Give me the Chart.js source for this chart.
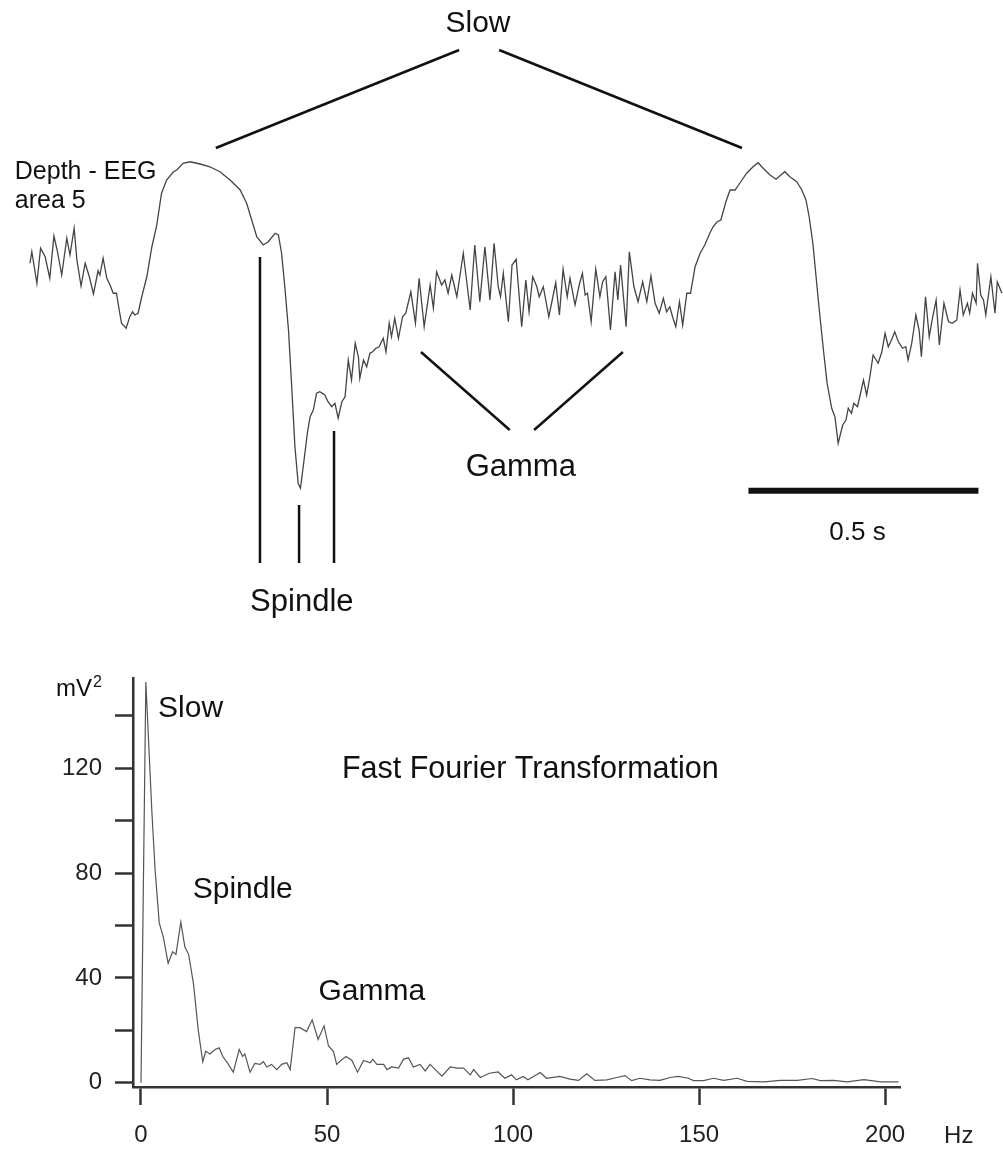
<!DOCTYPE html>
<html>
<head>
<meta charset="utf-8">
<title>Depth-EEG area 5 and FFT</title>
<script src="https://cdn.jsdelivr.net/npm/chart.js@4.4.1/dist/chart.umd.min.js"></script>
<style>
  html, body { margin: 0; padding: 0; background: #fff; }
  #page { position: relative; width: 1003px; height: 1149px; }
  #eeg { position: absolute; left: 0; top: 0; }
  #fft { position: absolute; left: 0; top: 640px; }
</style>
</head>
<body>
<div id="page">
  <canvas id="eeg" width="1003" height="640"></canvas>
  <canvas id="fft" width="1003" height="509"></canvas>
</div>
<script>
// EEG trace (depth EEG, area 5): time in ms, amplitude in µV
const eegMs = [0, 4, 15, 23, 33, 43, 52, 59, 69, 80, 87, 96, 102, 111, 120, 129, 138, 148, 152, 159,
  167, 174, 181, 188, 194, 199, 209, 217, 223, 228, 235, 243, 254, 265, 275, 286, 297, 312, 319, 333,
  348, 370, 391, 413, 435, 457, 471, 482, 493, 507, 518, 533, 540, 547, 554, 562, 569, 576, 583, 588,
  594, 603, 609, 616, 623, 630, 641, 648, 656, 663, 670, 678, 685, 692, 699, 707, 714, 717, 725, 732,
  739, 745, 752, 759, 768, 774, 781, 786, 793, 801, 810, 817, 828, 838, 846, 857, 870, 877, 884, 895,
  902, 909, 917, 928, 942, 957, 967, 978, 989, 1000, 1009, 1018, 1023, 1029, 1040, 1048, 1057, 1069, 1078, 1085,
  1093, 1102, 1107, 1116, 1128, 1143, 1151, 1159, 1168, 1174, 1185, 1194, 1201, 1207, 1212, 1220, 1230, 1239, 1245, 1252,
  1262, 1272, 1278, 1284, 1296, 1303, 1313, 1322, 1332, 1341, 1350, 1359, 1368, 1377, 1384, 1391, 1397, 1404, 1412, 1419,
  1428, 1436, 1446, 1457, 1467, 1478, 1485, 1494, 1502, 1513, 1522, 1533, 1543, 1558, 1572, 1583, 1594, 1609, 1622, 1630,
  1641, 1652, 1667, 1678, 1687, 1694, 1702, 1709, 1716, 1725, 1733, 1743, 1750, 1757, 1767, 1774, 1779, 1786, 1791, 1799,
  1804, 1812, 1819, 1826, 1833, 1844, 1852, 1859, 1866, 1873, 1880, 1888, 1897, 1904, 1909, 1917, 1926, 1933, 1938, 1947,
  1955, 1962, 1970, 1977, 1987, 1997, 2005, 2015, 2022, 2029, 2038, 2043, 2049, 2057, 2060, 2067, 2073, 2078, 2089, 2098,
  2103, 2113];
const eegUv = [147, 193, 67, 207, 173, 87, 256, 200, 100, 247, 180, 287, 160, 56, 147, 93, 24, 117, 100, 167,
  87, 60, 27, 27, -40, -93, -113, -67, -47, -60, -53, 13, 93, 213, 293, 427, 480, 513, 520, 547,
  553, 544, 533, 513, 480, 440, 387, 320, 253, 220, 233, 267, 260, 187, 53, -120, -347, -587, -733, -753,
  -667, -533, -467, -440, -373, -367, -380, -407, -427, -413, -473, -407, -387, -240, -320, -173, -227, -313, -240, -267,
  -213, -207, -193, -187, -153, -207, -93, -147, -73, -153, -67, -53, 33, -93, 87, -107, 60, -33, 113, 60,
  80, 27, 100, 13, 187, -40, 220, -7, 213, 0, 227, 53, 13, 107, -87, 140, 163, -107, 80, -47,
  93, 53, 13, 53, -67, 69, -60, 123, 13, 87, -20, 60, 107, 20, 27, -87, 124, 13, 73, 93,
  -120, 113, 0, 140, -107, 193, 53, -7, 73, -7, 96, -13, -53, 7, -47, -27, -67, -107, -7, -100,
  27, 27, 133, 187, 220, 267, 293, 313, 320, 393, 440, 440, 467, 507, 533, 549, 527, 500, 483, 496,
  513, 493, 473, 440, 400, 333, 227, 93, -40, -200, -333, -433, -467, -573, -500, -480, -433, -453, -413, -427,
  -387, -320, -380, -307, -220, -253, -207, -133, -187, -160, -127, -167, -193, -187, -240, -173, -60, -120, -227, 13,
  -147, -73, 0, -180, -13, -87, -93, -80, 40, -60, -13, -53, 27, -13, 147, 20, 0, -60, 93, -53,
  73, 27];

// FFT power spectrum: frequency (Hz) and power (mV²)
const fftHz = [0, 1.3, 2.9, 3.8, 4.9, 6, 7.3, 8.5, 9.4, 10.7, 11.8, 12.8, 14.1, 15.4, 16.6, 17.4, 18.5, 19.9, 21, 22,
  23.5, 24.8, 26.4, 27.3, 27.9, 29.3, 30.6, 32, 32.9, 33.8, 35.1, 36.5, 37.8, 39.2, 40.1, 41.4, 42.7, 44.5, 46, 47.6,
  49.2, 50.4, 51.7, 52.6, 53.7, 55.1, 56.7, 58.2, 59.8, 61.6, 62.3, 63.4, 65.2, 66.1, 67.4, 69.2, 70.6, 71.9, 73.2, 75,
  76.4, 77.7, 79.1, 80.9, 83.1, 84.9, 86.7, 88.5, 89.4, 91.2, 93.6, 96, 97.8, 99.6, 100.9, 102.7, 104, 107.3, 109, 112.6,
  115.3, 117.6, 119.8, 122, 125.2, 127.9, 130.1, 131.9, 134.1, 136.8, 139.5, 142.2, 144.4, 147.1, 148.5, 151.2, 153.9, 156.6, 160.2, 162.9,
  167.4, 171.9, 176.4, 180.4, 182.6, 186.2, 189.8, 194.3, 198.8, 203.6];
const fftPower = [0, 153, 104, 81, 61, 55.6, 45.6, 50, 49, 61.3, 51.8, 49, 37.8, 20, 8, 12, 11, 12.7, 13.3, 10,
  7, 4, 12.7, 10, 11, 4, 7.4, 7, 8, 6, 7, 5, 7, 7.6, 5, 21, 21, 19.5, 24, 16.5,
  21.7, 14, 12, 7, 8.5, 10, 8.5, 4, 8.5, 7.6, 9, 7, 7, 5, 6, 5.6, 9, 9.5, 6, 7,
  4.5, 7, 5, 2.5, 6, 5.6, 5.6, 3, 5, 2, 3.6, 4.1, 1.7, 3, 1.1, 2.4, 1.1, 3.9, 1.7, 2.4,
  1.4, 0.9, 3.4, 0.9, 1.1, 2, 2.7, 0.8, 1.7, 1.1, 0.9, 2, 2.4, 1.7, 0.8, 0.8, 1.7, 0.9, 1.7, 0.5,
  0.3, 0.9, 0.9, 1.6, 0.8, 0.9, 0.3, 1.2, 0.3, 0.3];
const hzTicks = [0, 50, 100, 150, 200];
const powerTickLabels = [0, 40, 80, 120];

const FONT = '"Liberation Sans", Arial, Helvetica, sans-serif';
const INK = '#111';

function label(ctx, text, x, y, size, align) {
  ctx.font = size + 'px ' + FONT;
  ctx.textAlign = align || 'center';
  ctx.textBaseline = 'middle';
  ctx.fillText(text, x, y);
}

// annotations of the raw trace, placed in time / amplitude units
const eegNotes = {
  id: 'eegNotes',
  afterDatasetsDraw(chart) {
    const { ctx, scales: { x, y } } = chart;
    const px = t => x.getPixelForValue(t);
    const py = v => y.getPixelForValue(v);
    const seg = (t1, v1, t2, v2, w) => {
      ctx.lineWidth = w || 2.5;
      ctx.beginPath();
      ctx.moveTo(px(t1), py(v1));
      ctx.lineTo(px(t2), py(v2));
      ctx.stroke();
    };
    ctx.save();
    ctx.strokeStyle = INK;
    ctx.fillStyle = INK;
    ctx.lineCap = 'butt';

    // slow oscillation
    label(ctx, 'Slow', px(974), py(1104), 30);
    seg(404, 608, 933, 1000);
    seg(1020, 1000, 1548, 608);

    // spindle
    seg(500, 172, 500, -1052);
    seg(585, -820, 585, -1052);
    seg(661, -524, 661, -1052);
    label(ctx, 'Spindle', px(591), py(-1208), 31);

    // gamma
    seg(850, -208, 1043, -520);
    seg(1289, -208, 1096, -520);
    label(ctx, 'Gamma', px(1067), py(-668), 31);

    // 0.5 s scale bar
    seg(1562, -763, 1562 + 500, -763, 6);
    label(ctx, '0.5 s', px(1562 + 237), py(-932), 26);

    // trace label
    label(ctx, 'Depth - EEG', px(-33), py(512), 25, 'left');
    label(ctx, 'area 5', px(-33), py(396), 25, 'left');
    ctx.restore();
  }
};

new Chart(document.getElementById('eeg').getContext('2d'), {
  type: 'line',
  data: {
    datasets: [{
      data: eegMs.map((t, i) => ({ x: t, y: eegUv[i] })),
      borderColor: '#444',
      borderWidth: 1.3,
      pointRadius: 0,
      tension: 0
    }]
  },
  options: {
    responsive: false,
    animation: false,
    events: [],
    layout: { padding: 0 },
    plugins: { legend: { display: false }, tooltip: { enabled: false } },
    scales: {
      x: { type: 'linear', display: false, min: -65.2, max: 2115.4 },
      y: { type: 'linear', display: false, min: -1360, max: 1200 }
    }
  },
  plugins: [eegNotes]
});

// labels of the spectrum, placed in Hz / mV² units
const fftNotes = {
  id: 'fftNotes',
  afterDraw(chart) {
    const { ctx, scales: { x, y } } = chart;
    ctx.save();
    ctx.fillStyle = INK;
    label(ctx, 'Slow', x.getPixelForValue(4.6), y.getPixelForValue(142.9), 30, 'left');
    label(ctx, 'Spindle', x.getPixelForValue(13.9), y.getPixelForValue(73.5), 30, 'left');
    label(ctx, 'Gamma', x.getPixelForValue(47.7), y.getPixelForValue(34.7), 30, 'left');
    label(ctx, 'Fast Fourier Transformation', x.getPixelForValue(54), y.getPixelForValue(119.4), 30.5, 'left');

    // unit of the power axis: mV²
    const right = y.right - 18 - 13;
    const yy = y.getPixelForValue(150);
    ctx.font = '16px ' + FONT;
    const w2 = ctx.measureText('2').width;
    ctx.textAlign = 'right';
    ctx.textBaseline = 'middle';
    ctx.fillText('2', right, yy - 7);
    label(ctx, 'mV', right - w2 - 1, yy, 24, 'right');

    // unit of the frequency axis
    ctx.fillStyle = '#222';
    label(ctx, 'Hz', x.getPixelForValue(219.8), x.top + 49, 24);
    ctx.restore();
  }
};

const axisInk = '#333';
new Chart(document.getElementById('fft').getContext('2d'), {
  type: 'line',
  data: {
    datasets: [{
      data: fftHz.map((f, i) => ({ x: f, y: fftPower[i] })),
      borderColor: '#555',
      borderWidth: 1.2,
      pointRadius: 0,
      tension: 0
    }]
  },
  options: {
    responsive: false,
    animation: false,
    events: [],
    layout: { padding: { left: 0, right: 103, top: 38, bottom: 0 } },
    plugins: { legend: { display: false }, tooltip: { enabled: false } },
    scales: {
      x: {
        type: 'linear',
        min: -2.15,
        max: 204,
        afterFit(scale) { scale.height = 62; },
        afterBuildTicks(scale) { scale.ticks = hzTicks.map(v => ({ value: v })); },
        border: { display: true, color: axisInk, width: 2.5 },
        grid: { drawOnChartArea: false, drawTicks: true, tickLength: 18, tickWidth: 2.5, tickColor: axisInk },
        ticks: { color: '#222', font: { family: FONT, size: 24 }, padding: 16, maxRotation: 0, autoSkip: false }
      },
      y: {
        type: 'linear',
        min: -1.64,
        max: 154.5,
        afterFit(scale) { scale.width = 133; },
        border: { display: true, color: axisInk, width: 2.5 },
        grid: { drawOnChartArea: false, drawTicks: true, tickLength: 18, tickWidth: 2.5, tickColor: axisInk },
        ticks: {
          stepSize: 20,
          includeBounds: false,
          autoSkip: false,
          padding: 13,
          color: '#222',
          font: { family: FONT, size: 24 },
          callback: v => (powerTickLabels.includes(v) ? String(v) : '')
        }
      }
    }
  },
  plugins: [fftNotes]
});
</script>
</body>
</html>
